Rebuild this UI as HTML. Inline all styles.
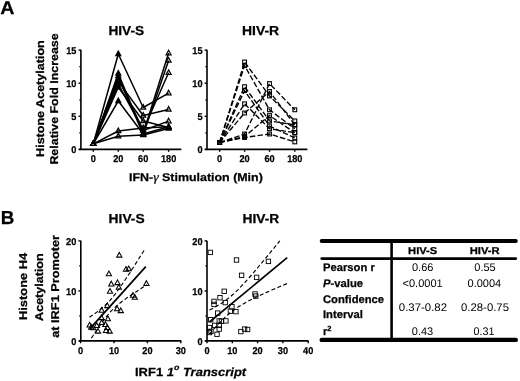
<!DOCTYPE html>
<html><head><meta charset="utf-8"><style>
html,body{margin:0;padding:0;background:#fff;width:520px;height:381px;overflow:hidden;}
svg{display:block;filter:grayscale(1);}
text{font-family:"Liberation Sans", sans-serif;fill:#000;text-rendering:geometricPrecision;}
text[font-weight="bold"]{stroke:#000;stroke-width:0.25px;}
</style></head><body>
<svg width="520" height="381" viewBox="0 0 520 381">
<text transform="translate(0.2,14.1) scale(1.06,1)" font-size="18.6" font-weight="bold" font-style="normal" text-anchor="start">A</text>
<text transform="translate(0.8,224.2)" font-size="18.8" font-weight="bold" font-style="normal" text-anchor="start">B</text>
<path d="M80.9 49.8V149.4" stroke="#000" stroke-width="1.6" fill="none"/>
<path d="M78.5 50.1H80.9" stroke="#000" stroke-width="1.4"/>
<text transform="translate(76.4,53.7) scale(0.93,1)" font-size="9.9" font-weight="bold" font-style="normal" text-anchor="end">15</text>
<path d="M78.5 83.2H80.9" stroke="#000" stroke-width="1.4"/>
<text transform="translate(76.4,86.8) scale(0.93,1)" font-size="9.9" font-weight="bold" font-style="normal" text-anchor="end">10</text>
<path d="M78.5 116.3H80.9" stroke="#000" stroke-width="1.4"/>
<text transform="translate(76.4,119.9) scale(0.93,1)" font-size="9.9" font-weight="bold" font-style="normal" text-anchor="end">5</text>
<path d="M78.5 149.4H80.9" stroke="#000" stroke-width="1.4"/>
<text transform="translate(76.4,153.0) scale(0.93,1)" font-size="9.9" font-weight="bold" font-style="normal" text-anchor="end">0</text>
<path d="M79.30000000000001 66.7H80.9" stroke="#000" stroke-width="1.2"/>
<path d="M79.30000000000001 99.8H80.9" stroke="#000" stroke-width="1.2"/>
<path d="M79.30000000000001 132.8H80.9" stroke="#000" stroke-width="1.2"/>
<path d="M79.10000000000001 149.4H181.3" stroke="#000" stroke-width="1.6" fill="none"/>
<path d="M93.3 149.4V151.8" stroke="#000" stroke-width="1.4"/>
<text transform="translate(93.3,161.8) scale(0.93,1)" font-size="9.9" font-weight="bold" font-style="normal" text-anchor="middle">0</text>
<path d="M118.3 149.4V151.8" stroke="#000" stroke-width="1.4"/>
<text transform="translate(118.3,161.8) scale(0.93,1)" font-size="9.9" font-weight="bold" font-style="normal" text-anchor="middle">20</text>
<path d="M143.2 149.4V151.8" stroke="#000" stroke-width="1.4"/>
<text transform="translate(143.2,161.8) scale(0.93,1)" font-size="9.9" font-weight="bold" font-style="normal" text-anchor="middle">60</text>
<path d="M168.6 149.4V151.8" stroke="#000" stroke-width="1.4"/>
<text transform="translate(168.6,161.8) scale(0.93,1)" font-size="9.9" font-weight="bold" font-style="normal" text-anchor="middle">180</text>
<path d="M207.0 49.8V149.4" stroke="#000" stroke-width="1.6" fill="none"/>
<path d="M204.6 50.1H207.0" stroke="#000" stroke-width="1.4"/>
<text transform="translate(202.5,53.7) scale(0.93,1)" font-size="9.9" font-weight="bold" font-style="normal" text-anchor="end">15</text>
<path d="M204.6 83.2H207.0" stroke="#000" stroke-width="1.4"/>
<text transform="translate(202.5,86.8) scale(0.93,1)" font-size="9.9" font-weight="bold" font-style="normal" text-anchor="end">10</text>
<path d="M204.6 116.3H207.0" stroke="#000" stroke-width="1.4"/>
<text transform="translate(202.5,119.9) scale(0.93,1)" font-size="9.9" font-weight="bold" font-style="normal" text-anchor="end">5</text>
<path d="M204.6 149.4H207.0" stroke="#000" stroke-width="1.4"/>
<text transform="translate(202.5,153.0) scale(0.93,1)" font-size="9.9" font-weight="bold" font-style="normal" text-anchor="end">0</text>
<path d="M205.4 66.7H207.0" stroke="#000" stroke-width="1.2"/>
<path d="M205.4 99.8H207.0" stroke="#000" stroke-width="1.2"/>
<path d="M205.4 132.8H207.0" stroke="#000" stroke-width="1.2"/>
<path d="M205.2 149.4H307.4" stroke="#000" stroke-width="1.6" fill="none"/>
<path d="M219.6 149.4V151.8" stroke="#000" stroke-width="1.4"/>
<text transform="translate(219.6,161.8) scale(0.93,1)" font-size="9.9" font-weight="bold" font-style="normal" text-anchor="middle">0</text>
<path d="M244.6 149.4V151.8" stroke="#000" stroke-width="1.4"/>
<text transform="translate(244.6,161.8) scale(0.93,1)" font-size="9.9" font-weight="bold" font-style="normal" text-anchor="middle">20</text>
<path d="M269.5 149.4V151.8" stroke="#000" stroke-width="1.4"/>
<text transform="translate(269.5,161.8) scale(0.93,1)" font-size="9.9" font-weight="bold" font-style="normal" text-anchor="middle">60</text>
<path d="M294.8 149.4V151.8" stroke="#000" stroke-width="1.4"/>
<text transform="translate(294.8,161.8) scale(0.93,1)" font-size="9.9" font-weight="bold" font-style="normal" text-anchor="middle">180</text>
<text transform="translate(126.3,35.3) scale(1.05,1)" font-size="13" font-weight="bold" font-style="normal" text-anchor="middle">HIV-S</text>
<text transform="translate(260.6,35.3) scale(1.07,1)" font-size="13" font-weight="bold" font-style="normal" text-anchor="middle">HIV-R</text>
<path d="M93.3 143.8L118.3 54.0L143.2 107.5L168.6 93.1" fill="none" stroke="#000" stroke-width="1.5" stroke-linejoin="round"/>
<path d="M93.3 143.8L118.3 73.5L143.2 133.5L168.6 53.1" fill="none" stroke="#000" stroke-width="1.5" stroke-linejoin="round"/>
<path d="M93.3 143.8L118.3 76.0L143.2 134.5L168.6 60.4" fill="none" stroke="#000" stroke-width="1.5" stroke-linejoin="round"/>
<path d="M93.3 143.8L118.3 78.7L143.2 130.0L168.6 72.8" fill="none" stroke="#000" stroke-width="1.5" stroke-linejoin="round"/>
<path d="M93.3 143.8L118.3 81.4L143.2 115.5L168.6 109.5" fill="none" stroke="#000" stroke-width="1.5" stroke-linejoin="round"/>
<path d="M93.3 143.8L118.3 84.2L143.2 130.5L168.6 121.1" fill="none" stroke="#000" stroke-width="1.5" stroke-linejoin="round"/>
<path d="M93.3 143.8L118.3 87.2L143.2 121.0L168.6 127.6" fill="none" stroke="#000" stroke-width="1.5" stroke-linejoin="round"/>
<path d="M93.3 143.8L118.3 101.0L143.2 134.0L168.6 126.8" fill="none" stroke="#000" stroke-width="1.5" stroke-linejoin="round"/>
<path d="M93.3 143.8L118.3 131.0L143.2 128.0L168.6 126.8" fill="none" stroke="#000" stroke-width="1.5" stroke-linejoin="round"/>
<path d="M93.3 143.8L118.3 136.2L143.2 135.0L168.6 128.4" fill="none" stroke="#000" stroke-width="1.5" stroke-linejoin="round"/>
<path d="M93.3 140.9L95.8 145.5L90.8 145.5Z" fill="none" stroke="#000" stroke-width="1.2" stroke-linejoin="miter"/>
<path d="M118.3 51.1L120.8 55.7L115.8 55.7Z" fill="#000" stroke="#000" stroke-width="1.2" stroke-linejoin="miter"/>
<path d="M143.2 104.6L145.7 109.2L140.7 109.2Z" fill="none" stroke="#000" stroke-width="1.2" stroke-linejoin="miter"/>
<path d="M168.6 90.2L171.1 94.8L166.1 94.8Z" fill="none" stroke="#000" stroke-width="1.2" stroke-linejoin="miter"/>
<path d="M93.3 140.9L95.8 145.5L90.8 145.5Z" fill="none" stroke="#000" stroke-width="1.2" stroke-linejoin="miter"/>
<path d="M118.3 70.6L120.8 75.2L115.8 75.2Z" fill="#000" stroke="#000" stroke-width="1.2" stroke-linejoin="miter"/>
<path d="M143.2 130.6L145.7 135.2L140.7 135.2Z" fill="none" stroke="#000" stroke-width="1.2" stroke-linejoin="miter"/>
<path d="M168.6 50.2L171.1 54.8L166.1 54.8Z" fill="none" stroke="#000" stroke-width="1.2" stroke-linejoin="miter"/>
<path d="M93.3 140.9L95.8 145.5L90.8 145.5Z" fill="none" stroke="#000" stroke-width="1.2" stroke-linejoin="miter"/>
<path d="M118.3 73.1L120.8 77.7L115.8 77.7Z" fill="#000" stroke="#000" stroke-width="1.2" stroke-linejoin="miter"/>
<path d="M143.2 131.6L145.7 136.2L140.7 136.2Z" fill="none" stroke="#000" stroke-width="1.2" stroke-linejoin="miter"/>
<path d="M168.6 57.5L171.1 62.1L166.1 62.1Z" fill="none" stroke="#000" stroke-width="1.2" stroke-linejoin="miter"/>
<path d="M93.3 140.9L95.8 145.5L90.8 145.5Z" fill="none" stroke="#000" stroke-width="1.2" stroke-linejoin="miter"/>
<path d="M118.3 75.8L120.8 80.4L115.8 80.4Z" fill="#000" stroke="#000" stroke-width="1.2" stroke-linejoin="miter"/>
<path d="M143.2 127.1L145.7 131.7L140.7 131.7Z" fill="none" stroke="#000" stroke-width="1.2" stroke-linejoin="miter"/>
<path d="M168.6 69.9L171.1 74.5L166.1 74.5Z" fill="none" stroke="#000" stroke-width="1.2" stroke-linejoin="miter"/>
<path d="M93.3 140.9L95.8 145.5L90.8 145.5Z" fill="none" stroke="#000" stroke-width="1.2" stroke-linejoin="miter"/>
<path d="M118.3 78.5L120.8 83.1L115.8 83.1Z" fill="#000" stroke="#000" stroke-width="1.2" stroke-linejoin="miter"/>
<path d="M143.2 112.6L145.7 117.2L140.7 117.2Z" fill="none" stroke="#000" stroke-width="1.2" stroke-linejoin="miter"/>
<path d="M168.6 106.6L171.1 111.2L166.1 111.2Z" fill="none" stroke="#000" stroke-width="1.2" stroke-linejoin="miter"/>
<path d="M93.3 140.9L95.8 145.5L90.8 145.5Z" fill="none" stroke="#000" stroke-width="1.2" stroke-linejoin="miter"/>
<path d="M118.3 81.3L120.8 85.9L115.8 85.9Z" fill="#000" stroke="#000" stroke-width="1.2" stroke-linejoin="miter"/>
<path d="M143.2 127.6L145.7 132.2L140.7 132.2Z" fill="none" stroke="#000" stroke-width="1.2" stroke-linejoin="miter"/>
<path d="M168.6 118.2L171.1 122.8L166.1 122.8Z" fill="none" stroke="#000" stroke-width="1.2" stroke-linejoin="miter"/>
<path d="M93.3 140.9L95.8 145.5L90.8 145.5Z" fill="none" stroke="#000" stroke-width="1.2" stroke-linejoin="miter"/>
<path d="M118.3 84.3L120.8 88.9L115.8 88.9Z" fill="#000" stroke="#000" stroke-width="1.2" stroke-linejoin="miter"/>
<path d="M143.2 118.1L145.7 122.7L140.7 122.7Z" fill="none" stroke="#000" stroke-width="1.2" stroke-linejoin="miter"/>
<path d="M168.6 124.7L171.1 129.3L166.1 129.3Z" fill="none" stroke="#000" stroke-width="1.2" stroke-linejoin="miter"/>
<path d="M93.3 140.9L95.8 145.5L90.8 145.5Z" fill="none" stroke="#000" stroke-width="1.2" stroke-linejoin="miter"/>
<path d="M118.3 98.1L120.8 102.7L115.8 102.7Z" fill="#000" stroke="#000" stroke-width="1.2" stroke-linejoin="miter"/>
<path d="M143.2 131.1L145.7 135.7L140.7 135.7Z" fill="none" stroke="#000" stroke-width="1.2" stroke-linejoin="miter"/>
<path d="M168.6 123.9L171.1 128.5L166.1 128.5Z" fill="none" stroke="#000" stroke-width="1.2" stroke-linejoin="miter"/>
<path d="M93.3 140.9L95.8 145.5L90.8 145.5Z" fill="none" stroke="#000" stroke-width="1.2" stroke-linejoin="miter"/>
<path d="M118.3 128.1L120.8 132.7L115.8 132.7Z" fill="none" stroke="#000" stroke-width="1.2" stroke-linejoin="miter"/>
<path d="M143.2 125.1L145.7 129.7L140.7 129.7Z" fill="none" stroke="#000" stroke-width="1.2" stroke-linejoin="miter"/>
<path d="M168.6 123.9L171.1 128.5L166.1 128.5Z" fill="none" stroke="#000" stroke-width="1.2" stroke-linejoin="miter"/>
<path d="M93.3 140.9L95.8 145.5L90.8 145.5Z" fill="none" stroke="#000" stroke-width="1.2" stroke-linejoin="miter"/>
<path d="M118.3 133.3L120.8 137.9L115.8 137.9Z" fill="none" stroke="#000" stroke-width="1.2" stroke-linejoin="miter"/>
<path d="M143.2 132.1L145.7 136.7L140.7 136.7Z" fill="none" stroke="#000" stroke-width="1.2" stroke-linejoin="miter"/>
<path d="M168.6 125.5L171.1 130.1L166.1 130.1Z" fill="none" stroke="#000" stroke-width="1.2" stroke-linejoin="miter"/>
<path d="M219.6 142.5L244.6 62.0L269.5 96.0L294.8 120.9" fill="none" stroke="#000" stroke-width="1.35" stroke-dasharray="5.5,2.2" stroke-linejoin="round"/>
<path d="M219.6 142.5L244.6 65.5L269.5 109.8L294.8 128.7" fill="none" stroke="#000" stroke-width="1.35" stroke-dasharray="5.5,2.2" stroke-linejoin="round"/>
<path d="M219.6 142.5L244.6 86.7L269.5 120.9L294.8 124.8" fill="none" stroke="#000" stroke-width="1.35" stroke-dasharray="5.5,2.2" stroke-linejoin="round"/>
<path d="M219.6 142.5L244.6 90.7L269.5 126.0L294.8 138.0" fill="none" stroke="#000" stroke-width="1.35" stroke-dasharray="5.5,2.2" stroke-linejoin="round"/>
<path d="M219.6 142.5L244.6 103.8L269.5 128.7L294.8 132.7" fill="none" stroke="#000" stroke-width="1.35" stroke-dasharray="5.5,2.2" stroke-linejoin="round"/>
<path d="M219.6 142.5L244.6 113.0L269.5 91.5L294.8 124.8" fill="none" stroke="#000" stroke-width="1.35" stroke-dasharray="5.5,2.2" stroke-linejoin="round"/>
<path d="M219.6 142.5L244.6 134.0L269.5 83.6L294.8 109.8" fill="none" stroke="#000" stroke-width="1.35" stroke-dasharray="5.5,2.2" stroke-linejoin="round"/>
<path d="M219.6 142.5L244.6 136.6L269.5 115.6L294.8 132.7" fill="none" stroke="#000" stroke-width="1.35" stroke-dasharray="5.5,2.2" stroke-linejoin="round"/>
<path d="M219.6 142.5L244.6 137.5L269.5 134.0L294.8 141.9" fill="none" stroke="#000" stroke-width="1.35" stroke-dasharray="5.5,2.2" stroke-linejoin="round"/>
<rect x="217.7" y="140.6" width="3.8" height="3.8" fill="none" stroke="#000" stroke-width="1.1"/>
<rect x="242.7" y="60.1" width="3.8" height="3.8" fill="none" stroke="#000" stroke-width="1.1"/>
<rect x="267.6" y="94.1" width="3.8" height="3.8" fill="none" stroke="#000" stroke-width="1.1"/>
<rect x="292.9" y="119.0" width="3.8" height="3.8" fill="none" stroke="#000" stroke-width="1.1"/>
<rect x="217.7" y="140.6" width="3.8" height="3.8" fill="none" stroke="#000" stroke-width="1.1"/>
<rect x="242.7" y="63.6" width="3.8" height="3.8" fill="none" stroke="#000" stroke-width="1.1"/>
<rect x="267.6" y="107.9" width="3.8" height="3.8" fill="none" stroke="#000" stroke-width="1.1"/>
<rect x="292.9" y="126.8" width="3.8" height="3.8" fill="none" stroke="#000" stroke-width="1.1"/>
<rect x="217.7" y="140.6" width="3.8" height="3.8" fill="none" stroke="#000" stroke-width="1.1"/>
<rect x="242.7" y="84.8" width="3.8" height="3.8" fill="none" stroke="#000" stroke-width="1.1"/>
<rect x="267.6" y="119.0" width="3.8" height="3.8" fill="none" stroke="#000" stroke-width="1.1"/>
<rect x="292.9" y="122.9" width="3.8" height="3.8" fill="none" stroke="#000" stroke-width="1.1"/>
<rect x="217.7" y="140.6" width="3.8" height="3.8" fill="none" stroke="#000" stroke-width="1.1"/>
<rect x="242.7" y="88.8" width="3.8" height="3.8" fill="none" stroke="#000" stroke-width="1.1"/>
<rect x="267.6" y="124.1" width="3.8" height="3.8" fill="none" stroke="#000" stroke-width="1.1"/>
<rect x="292.9" y="136.1" width="3.8" height="3.8" fill="none" stroke="#000" stroke-width="1.1"/>
<rect x="217.7" y="140.6" width="3.8" height="3.8" fill="none" stroke="#000" stroke-width="1.1"/>
<rect x="242.7" y="101.9" width="3.8" height="3.8" fill="none" stroke="#000" stroke-width="1.1"/>
<rect x="267.6" y="126.8" width="3.8" height="3.8" fill="none" stroke="#000" stroke-width="1.1"/>
<rect x="292.9" y="130.8" width="3.8" height="3.8" fill="none" stroke="#000" stroke-width="1.1"/>
<rect x="217.7" y="140.6" width="3.8" height="3.8" fill="none" stroke="#000" stroke-width="1.1"/>
<rect x="242.7" y="111.1" width="3.8" height="3.8" fill="none" stroke="#000" stroke-width="1.1"/>
<rect x="267.6" y="89.6" width="3.8" height="3.8" fill="none" stroke="#000" stroke-width="1.1"/>
<rect x="292.9" y="122.9" width="3.8" height="3.8" fill="none" stroke="#000" stroke-width="1.1"/>
<rect x="217.7" y="140.6" width="3.8" height="3.8" fill="none" stroke="#000" stroke-width="1.1"/>
<rect x="242.7" y="132.1" width="3.8" height="3.8" fill="none" stroke="#000" stroke-width="1.1"/>
<rect x="267.6" y="81.7" width="3.8" height="3.8" fill="none" stroke="#000" stroke-width="1.1"/>
<rect x="292.9" y="107.9" width="3.8" height="3.8" fill="none" stroke="#000" stroke-width="1.1"/>
<rect x="217.7" y="140.6" width="3.8" height="3.8" fill="none" stroke="#000" stroke-width="1.1"/>
<rect x="242.7" y="134.7" width="3.8" height="3.8" fill="none" stroke="#000" stroke-width="1.1"/>
<rect x="267.6" y="113.7" width="3.8" height="3.8" fill="none" stroke="#000" stroke-width="1.1"/>
<rect x="292.9" y="130.8" width="3.8" height="3.8" fill="none" stroke="#000" stroke-width="1.1"/>
<rect x="217.7" y="140.6" width="3.8" height="3.8" fill="none" stroke="#000" stroke-width="1.1"/>
<rect x="242.7" y="135.6" width="3.8" height="3.8" fill="none" stroke="#000" stroke-width="1.1"/>
<rect x="267.6" y="132.1" width="3.8" height="3.8" fill="none" stroke="#000" stroke-width="1.1"/>
<rect x="292.9" y="140.0" width="3.8" height="3.8" fill="none" stroke="#000" stroke-width="1.1"/>
<text transform="translate(43.8,98.6) rotate(-90) scale(1.11,1)" font-size="11.3" font-weight="bold" font-style="normal" text-anchor="middle">Histone Acetylation</text>
<text transform="translate(57.6,99.0) rotate(-90) scale(1.1,1)" font-size="11.3" font-weight="bold" font-style="normal" text-anchor="middle">Relative Fold Increase</text>
<text transform="translate(129,180.6) scale(1.11,1)" font-size="11.2" font-weight="bold">IFN-<tspan font-style="italic" font-weight="normal" font-family="Liberation Serif" font-size="12.5">&#947;</tspan> Stimulation (Min)</text>
<path d="M80.8 240.8V340.9" stroke="#000" stroke-width="1.6" fill="none"/>
<path d="M78.39999999999999 240.9H80.8" stroke="#000" stroke-width="1.4"/>
<text transform="translate(76.3,244.6) scale(0.93,1)" font-size="9.9" font-weight="bold" font-style="normal" text-anchor="end">20</text>
<path d="M78.39999999999999 290.9H80.8" stroke="#000" stroke-width="1.4"/>
<text transform="translate(76.3,294.6) scale(0.93,1)" font-size="9.9" font-weight="bold" font-style="normal" text-anchor="end">10</text>
<path d="M78.39999999999999 340.9H80.8" stroke="#000" stroke-width="1.4"/>
<text transform="translate(76.3,344.6) scale(0.93,1)" font-size="9.9" font-weight="bold" font-style="normal" text-anchor="end">0</text>
<path d="M79.2 265.9H80.8" stroke="#000" stroke-width="1.2"/>
<path d="M79.2 315.9H80.8" stroke="#000" stroke-width="1.2"/>
<path d="M79.0 340.9H181.4" stroke="#000" stroke-width="1.6" fill="none"/>
<path d="M80.6 340.9V343.29999999999995" stroke="#000" stroke-width="1.4"/>
<text transform="translate(80.6,353.5) scale(0.93,1)" font-size="9.9" font-weight="bold" font-style="normal" text-anchor="middle">0</text>
<path d="M114.0 340.9V343.29999999999995" stroke="#000" stroke-width="1.4"/>
<text transform="translate(114.0,353.5) scale(0.93,1)" font-size="9.9" font-weight="bold" font-style="normal" text-anchor="middle">10</text>
<path d="M147.4 340.9V343.29999999999995" stroke="#000" stroke-width="1.4"/>
<text transform="translate(147.4,353.5) scale(0.93,1)" font-size="9.9" font-weight="bold" font-style="normal" text-anchor="middle">20</text>
<path d="M180.8 340.9V343.29999999999995" stroke="#000" stroke-width="1.4"/>
<text transform="translate(180.8,353.5) scale(0.93,1)" font-size="9.9" font-weight="bold" font-style="normal" text-anchor="middle">30</text>
<path d="M207.0 240.8V340.9" stroke="#000" stroke-width="1.6" fill="none"/>
<path d="M204.6 240.9H207.0" stroke="#000" stroke-width="1.4"/>
<text transform="translate(202.5,244.6) scale(0.93,1)" font-size="9.9" font-weight="bold" font-style="normal" text-anchor="end">20</text>
<path d="M204.6 290.9H207.0" stroke="#000" stroke-width="1.4"/>
<text transform="translate(202.5,294.6) scale(0.93,1)" font-size="9.9" font-weight="bold" font-style="normal" text-anchor="end">10</text>
<path d="M204.6 340.9H207.0" stroke="#000" stroke-width="1.4"/>
<text transform="translate(202.5,344.6) scale(0.93,1)" font-size="9.9" font-weight="bold" font-style="normal" text-anchor="end">0</text>
<path d="M205.4 265.9H207.0" stroke="#000" stroke-width="1.2"/>
<path d="M205.4 315.9H207.0" stroke="#000" stroke-width="1.2"/>
<path d="M205.2 340.9H308.5" stroke="#000" stroke-width="1.6" fill="none"/>
<path d="M207.0 340.9V343.29999999999995" stroke="#000" stroke-width="1.4"/>
<text transform="translate(207.0,353.5) scale(0.93,1)" font-size="9.9" font-weight="bold" font-style="normal" text-anchor="middle">0</text>
<path d="M232.3 340.9V343.29999999999995" stroke="#000" stroke-width="1.4"/>
<text transform="translate(232.3,353.5) scale(0.93,1)" font-size="9.9" font-weight="bold" font-style="normal" text-anchor="middle">10</text>
<path d="M257.6 340.9V343.29999999999995" stroke="#000" stroke-width="1.4"/>
<text transform="translate(257.6,353.5) scale(0.93,1)" font-size="9.9" font-weight="bold" font-style="normal" text-anchor="middle">20</text>
<path d="M282.9 340.9V343.29999999999995" stroke="#000" stroke-width="1.4"/>
<text transform="translate(282.9,353.5) scale(0.93,1)" font-size="9.9" font-weight="bold" font-style="normal" text-anchor="middle">30</text>
<path d="M308.2 340.9V343.29999999999995" stroke="#000" stroke-width="1.4"/>
<text transform="translate(308.2,353.5) scale(0.93,1)" font-size="9.9" font-weight="bold" font-style="normal" text-anchor="middle">40</text>
<text transform="translate(126.6,223.3) scale(1.06,1)" font-size="13" font-weight="bold" font-style="normal" text-anchor="middle">HIV-S</text>
<text transform="translate(260.9,223.2) scale(1.06,1)" font-size="13" font-weight="bold" font-style="normal" text-anchor="middle">HIV-R</text>
<path d="M90.0 328.6L145.8 266.6" fill="none" stroke="#000" stroke-width="1.7" stroke-linejoin="round"/>
<path d="M89.4 317.3L91.2 316.1L93.1 314.8L94.9 313.5L96.8 312.1L98.6 310.7L100.4 309.3L102.3 307.8L104.1 306.2L106.0 304.5L107.8 302.7L109.6 300.8L111.5 298.7L113.3 296.4L115.2 294.1L117.0 291.6L118.8 289.1L120.7 286.5L122.5 283.8L124.4 281.0L126.2 278.3L128.0 275.5L129.9 272.7L131.7 269.8L133.6 267.0L135.4 264.1L137.2 261.2L139.1 258.3L140.9 255.4L142.8 252.5L144.6 249.6" fill="none" stroke="#000" stroke-width="1.15" stroke-dasharray="4,2.4" stroke-linejoin="round"/>
<path d="M91.4 338.1L93.3 335.3L95.1 332.5L97.0 329.7L98.8 327.0L100.7 324.3L102.5 321.7L104.4 319.2L106.2 316.8L108.1 314.6L109.9 312.4L111.8 310.4L113.6 308.6L115.5 306.9L117.3 305.2L119.2 303.7L121.1 302.2L122.9 300.8L124.8 299.5L126.6 298.1L128.5 296.9L130.3 295.6L132.2 294.3L134.0 293.1L135.9 291.9L137.7 290.7L139.6 289.5L141.4 288.3L143.3 287.1L145.1 285.9L147.0 284.7" fill="none" stroke="#000" stroke-width="1.15" stroke-dasharray="4,2.4" stroke-linejoin="round"/>
<path d="M119.3 252.4L121.9 257.1L116.7 257.1Z" fill="none" stroke="#000" stroke-width="1.05" stroke-linejoin="miter"/>
<path d="M108.9 271.1L111.5 275.8L106.3 275.8Z" fill="none" stroke="#000" stroke-width="1.05" stroke-linejoin="miter"/>
<path d="M126.0 266.5L128.6 271.2L123.4 271.2Z" fill="none" stroke="#000" stroke-width="1.05" stroke-linejoin="miter"/>
<path d="M128.7 266.0L131.3 270.7L126.1 270.7Z" fill="none" stroke="#000" stroke-width="1.05" stroke-linejoin="miter"/>
<path d="M111.3 281.2L113.9 285.9L108.7 285.9Z" fill="none" stroke="#000" stroke-width="1.05" stroke-linejoin="miter"/>
<path d="M117.5 279.9L120.1 284.6L114.9 284.6Z" fill="none" stroke="#000" stroke-width="1.05" stroke-linejoin="miter"/>
<path d="M118.8 284.5L121.4 289.2L116.2 289.2Z" fill="none" stroke="#000" stroke-width="1.05" stroke-linejoin="miter"/>
<path d="M110.0 288.5L112.6 293.2L107.4 293.2Z" fill="none" stroke="#000" stroke-width="1.05" stroke-linejoin="miter"/>
<path d="M146.4 280.7L149.0 285.4L143.8 285.4Z" fill="none" stroke="#000" stroke-width="1.05" stroke-linejoin="miter"/>
<path d="M133.0 292.5L135.6 297.2L130.4 297.2Z" fill="none" stroke="#000" stroke-width="1.05" stroke-linejoin="miter"/>
<path d="M134.8 294.6L137.4 299.3L132.2 299.3Z" fill="none" stroke="#000" stroke-width="1.05" stroke-linejoin="miter"/>
<path d="M107.3 302.9L109.9 307.6L104.7 307.6Z" fill="none" stroke="#000" stroke-width="1.05" stroke-linejoin="miter"/>
<path d="M101.7 307.5L104.3 312.2L99.1 312.2Z" fill="none" stroke="#000" stroke-width="1.05" stroke-linejoin="miter"/>
<path d="M117.1 306.0L119.7 310.7L114.5 310.7Z" fill="none" stroke="#000" stroke-width="1.05" stroke-linejoin="miter"/>
<path d="M120.8 307.9L123.4 312.6L118.2 312.6Z" fill="none" stroke="#000" stroke-width="1.05" stroke-linejoin="miter"/>
<path d="M101.5 314.9L104.1 319.6L98.9 319.6Z" fill="none" stroke="#000" stroke-width="1.05" stroke-linejoin="miter"/>
<path d="M107.9 316.1L110.5 320.8L105.3 320.8Z" fill="none" stroke="#000" stroke-width="1.05" stroke-linejoin="miter"/>
<path d="M101.7 319.8L104.3 324.5L99.1 324.5Z" fill="none" stroke="#000" stroke-width="1.05" stroke-linejoin="miter"/>
<path d="M89.6 322.3L92.2 327.0L87.0 327.0Z" fill="none" stroke="#000" stroke-width="1.05" stroke-linejoin="miter"/>
<path d="M91.2 324.4L93.8 329.1L88.6 329.1Z" fill="none" stroke="#000" stroke-width="1.05" stroke-linejoin="miter"/>
<path d="M93.1 325.1L95.7 329.8L90.5 329.8Z" fill="none" stroke="#000" stroke-width="1.05" stroke-linejoin="miter"/>
<path d="M96.8 322.7L99.4 327.4L94.2 327.4Z" fill="none" stroke="#000" stroke-width="1.05" stroke-linejoin="miter"/>
<path d="M105.4 321.7L108.0 326.4L102.8 326.4Z" fill="none" stroke="#000" stroke-width="1.05" stroke-linejoin="miter"/>
<path d="M107.3 324.8L109.9 329.5L104.7 329.5Z" fill="none" stroke="#000" stroke-width="1.05" stroke-linejoin="miter"/>
<path d="M98.0 328.4L100.6 333.1L95.4 333.1Z" fill="none" stroke="#000" stroke-width="1.05" stroke-linejoin="miter"/>
<path d="M106.0 327.8L108.6 332.5L103.4 332.5Z" fill="none" stroke="#000" stroke-width="1.05" stroke-linejoin="miter"/>
<path d="M109.7 328.4L112.3 333.1L107.1 333.1Z" fill="none" stroke="#000" stroke-width="1.05" stroke-linejoin="miter"/>
<path d="M209.5 322.0L287.2 257.7" fill="none" stroke="#000" stroke-width="1.7" stroke-linejoin="round"/>
<path d="M209.5 310.1L211.8 308.9L214.2 307.6L216.5 306.3L218.9 304.9L221.2 303.4L223.6 301.9L225.9 300.2L228.2 298.4L230.6 296.5L232.9 294.5L235.3 292.3L237.6 290.1L240.0 287.7L242.3 285.2L244.7 282.7L247.0 280.1L249.3 277.5L251.7 274.8L254.0 272.1L256.4 269.3L258.7 266.5L261.1 263.7L263.4 260.9L265.7 258.1L268.1 255.3L270.4 252.4L272.8 249.5L275.1 246.7L277.5 243.8L279.8 240.9" fill="none" stroke="#000" stroke-width="1.15" stroke-dasharray="4,2.4" stroke-linejoin="round"/>
<path d="M209.5 333.9L212.1 331.0L214.7 328.1L217.3 325.3L219.9 322.5L222.4 319.9L225.0 317.4L227.6 315.0L230.2 312.8L232.8 310.8L235.4 308.9L238.0 307.1L240.6 305.5L243.2 303.9L245.8 302.5L248.3 301.1L250.9 299.7L253.5 298.4L256.1 297.2L258.7 296.0L261.3 294.8L263.9 293.6L266.5 292.4L269.1 291.3L271.7 290.1L274.2 289.0L276.8 287.9L279.4 286.8L282.0 285.7L284.6 284.6L287.2 283.5" fill="none" stroke="#000" stroke-width="1.15" stroke-dasharray="4,2.4" stroke-linejoin="round"/>
<rect x="208.1" y="250.2" width="4.4" height="4.4" fill="none" stroke="#000" stroke-width="0.9"/>
<rect x="234.3" y="257.8" width="4.4" height="4.4" fill="none" stroke="#000" stroke-width="0.9"/>
<rect x="266.2" y="259.2" width="4.4" height="4.4" fill="none" stroke="#000" stroke-width="0.9"/>
<rect x="239.4" y="273.1" width="4.4" height="4.4" fill="none" stroke="#000" stroke-width="0.9"/>
<rect x="254.4" y="275.2" width="4.4" height="4.4" fill="none" stroke="#000" stroke-width="0.9"/>
<rect x="222.0" y="289.1" width="4.4" height="4.4" fill="none" stroke="#000" stroke-width="0.9"/>
<rect x="252.8" y="291.8" width="4.4" height="4.4" fill="none" stroke="#000" stroke-width="0.9"/>
<rect x="253.6" y="293.9" width="4.4" height="4.4" fill="none" stroke="#000" stroke-width="0.9"/>
<rect x="217.8" y="295.5" width="4.4" height="4.4" fill="none" stroke="#000" stroke-width="0.9"/>
<rect x="211.8" y="299.2" width="4.4" height="4.4" fill="none" stroke="#000" stroke-width="0.9"/>
<rect x="211.8" y="302.2" width="4.4" height="4.4" fill="none" stroke="#000" stroke-width="0.9"/>
<rect x="223.0" y="300.4" width="4.4" height="4.4" fill="none" stroke="#000" stroke-width="0.9"/>
<rect x="229.7" y="304.5" width="4.4" height="4.4" fill="none" stroke="#000" stroke-width="0.9"/>
<rect x="228.2" y="309.0" width="4.4" height="4.4" fill="none" stroke="#000" stroke-width="0.9"/>
<rect x="233.7" y="309.4" width="4.4" height="4.4" fill="none" stroke="#000" stroke-width="0.9"/>
<rect x="215.5" y="310.9" width="4.4" height="4.4" fill="none" stroke="#000" stroke-width="0.9"/>
<rect x="208.5" y="317.5" width="4.4" height="4.4" fill="none" stroke="#000" stroke-width="0.9"/>
<rect x="217.0" y="318.7" width="4.4" height="4.4" fill="none" stroke="#000" stroke-width="0.9"/>
<rect x="223.7" y="318.7" width="4.4" height="4.4" fill="none" stroke="#000" stroke-width="0.9"/>
<rect x="219.2" y="319.0" width="4.4" height="4.4" fill="none" stroke="#000" stroke-width="0.9"/>
<rect x="207.3" y="325.4" width="4.4" height="4.4" fill="none" stroke="#000" stroke-width="0.9"/>
<rect x="212.5" y="323.2" width="4.4" height="4.4" fill="none" stroke="#000" stroke-width="0.9"/>
<rect x="217.0" y="323.2" width="4.4" height="4.4" fill="none" stroke="#000" stroke-width="0.9"/>
<rect x="208.8" y="329.1" width="4.4" height="4.4" fill="none" stroke="#000" stroke-width="0.9"/>
<rect x="217.0" y="326.9" width="4.4" height="4.4" fill="none" stroke="#000" stroke-width="0.9"/>
<rect x="214.8" y="332.1" width="4.4" height="4.4" fill="none" stroke="#000" stroke-width="0.9"/>
<rect x="207.3" y="330.3" width="4.4" height="4.4" fill="none" stroke="#000" stroke-width="0.9"/>
<rect x="238.7" y="329.4" width="4.4" height="4.4" fill="none" stroke="#000" stroke-width="0.9"/>
<rect x="242.4" y="326.9" width="4.4" height="4.4" fill="none" stroke="#000" stroke-width="0.9"/>
<rect x="245.4" y="327.3" width="4.4" height="4.4" fill="none" stroke="#000" stroke-width="0.9"/>
<text transform="translate(26.6,286.4) rotate(-90) scale(1.14,1)" font-size="11.3" font-weight="bold" font-style="normal" text-anchor="middle">Histone H4</text>
<text transform="translate(43.2,287.1) rotate(-90) scale(1.11,1)" font-size="11.3" font-weight="bold" font-style="normal" text-anchor="middle">Acetylation</text>
<text transform="translate(58.8,286.4) rotate(-90) scale(1.13,1)" font-size="11.3" font-weight="bold" font-style="normal" text-anchor="middle">at IRF1 Promoter</text>
<text transform="translate(135,375.6) scale(1.10,1)" font-size="11.8" font-weight="bold">IRF1 <tspan font-style="italic">1</tspan><tspan font-style="italic" font-size="8" dy="-5.8">o</tspan><tspan font-style="italic" dy="5.8"> Transcript</tspan></text>
<path d="M321.7 241.1H515.8" stroke="#000" stroke-width="4" stroke-linecap="round"/>
<path d="M321.7 258.6H515.8" stroke="#000" stroke-width="2.6" stroke-linecap="round"/>
<path d="M321.7 339.9H515.8" stroke="#000" stroke-width="4.4" stroke-linecap="round"/>
<path d="M391.6 241V339.8" stroke="#000" stroke-width="2.6"/>
<text transform="translate(422.7,253.9) scale(1.12,1)" font-size="10" font-weight="bold" font-style="normal" text-anchor="middle">HIV-S</text>
<text transform="translate(484.7,253.9) scale(1.12,1)" font-size="10" font-weight="bold" font-style="normal" text-anchor="middle">HIV-R</text>
<text transform="translate(323,271.3) scale(1.02,1)" font-size="11" font-weight="bold" font-style="normal" text-anchor="start">Pearson r</text>
<text transform="translate(323,287.1) scale(1.025,1)" font-size="11" font-weight="bold"><tspan font-style="italic">P</tspan>-value</text>
<text transform="translate(323,303.0) scale(1.02,1)" font-size="11" font-weight="bold" font-style="normal" text-anchor="start">Confidence</text>
<text transform="translate(323,318.4) scale(1.02,1)" font-size="11" font-weight="bold" font-style="normal" text-anchor="start">Interval</text>
<text x="323" y="334.7" font-size="11" font-weight="bold">r<tspan font-size="7.5" dy="-4">2</tspan></text>
<text transform="translate(422.7,271.4)" font-size="11" font-weight="normal" font-style="normal" text-anchor="middle">0.66</text>
<text transform="translate(485.0,271.4)" font-size="11" font-weight="normal" font-style="normal" text-anchor="middle">0.55</text>
<text transform="translate(422.6,286.8)" font-size="11" font-weight="normal" font-style="normal" text-anchor="middle">&lt;0.0001</text>
<text transform="translate(484.4,286.8)" font-size="11" font-weight="normal" font-style="normal" text-anchor="middle">0.0004</text>
<text transform="translate(422.9,311.3) scale(1.035,1)" font-size="11" font-weight="normal" font-style="normal" text-anchor="middle">0.37-0.82</text>
<text transform="translate(485.0,311.3) scale(1.03,1)" font-size="11" font-weight="normal" font-style="normal" text-anchor="middle">0.28-0.75</text>
<text transform="translate(422.5,335.0)" font-size="11" font-weight="normal" font-style="normal" text-anchor="middle">0.43</text>
<text transform="translate(484.1,335.0) scale(0.98,1)" font-size="11" font-weight="normal" font-style="normal" text-anchor="middle">0.31</text>
</svg>
</body></html>
